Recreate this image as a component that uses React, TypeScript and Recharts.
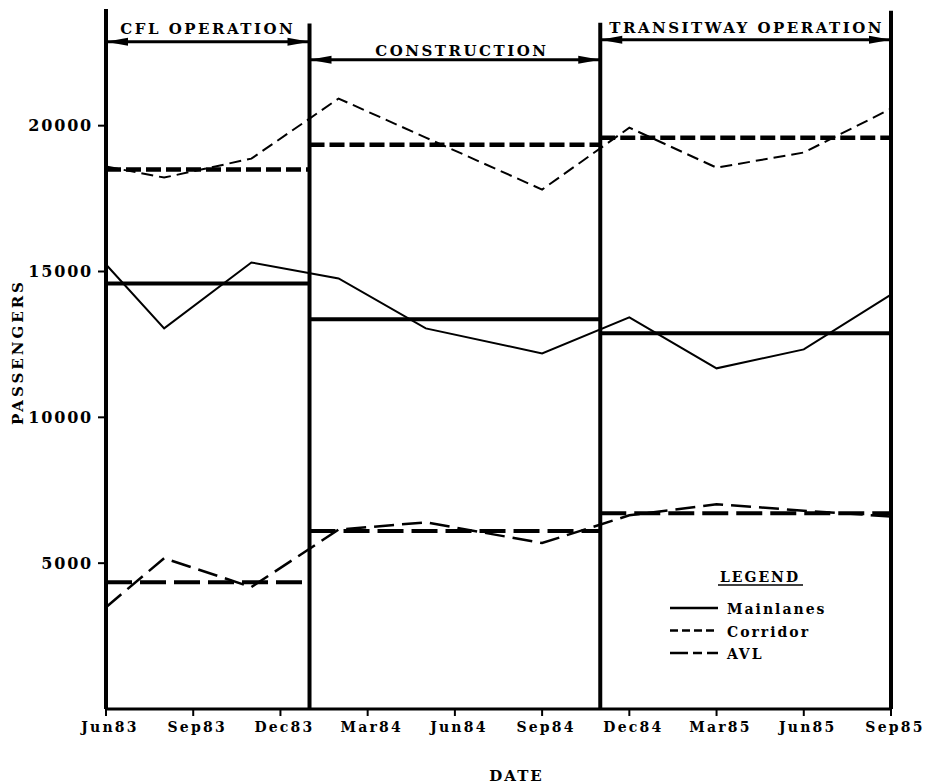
import React from 'react';
import { ComposedChart, Line, XAxis, YAxis, ReferenceLine, Legend } from 'recharts';

const months = [0, 2, 5, 8, 11, 15, 18, 21, 24, 27];
const mainlanes = [15240, 13050, 15310, 14760, 13050, 12190, 13430, 11680, 12330, 14210];
const corridor = [18600, 18220, 18870, 20930, 19590, 17810, 19930, 18560, 19080, 20580];
const avl = [3490, 5170, 4180, 6150, 6400, 5690, 6640, 7020, 6800, 6600];

const tickMonths = [0, 3, 6, 9, 12, 15, 18, 21, 24, 27];
const tickLabels = ['Jun83', 'Sep83', 'Dec83', 'Mar84', 'Jun84', 'Sep84', 'Dec84', 'Mar85', 'Jun85', 'Sep85'];
const yTicks = [5000, 10000, 15000, 20000];

const seriesOrder = ['Mainlanes', 'Corridor', 'AVL'];
const periodNames = ['CFL OPERATION', 'CONSTRUCTION', 'TRANSITWAY OPERATION'];
const periodStart = [0, 7, 17];
const periodEnd = [7, 17, 27];
const mainlanesAvg = [14590, 13360, 12880];
const corridorAvg = [18500, 19350, 19590];
const avlAvg = [4350, 6100, 6710];
const arrowLevels = [22880, 22260, 22950];
const labelGaps = [8, 4, 7];
const labelShift = [0, 7, 1];
const dividerMonths = [7, 17, 27];
const dividerTops = [23500, 23530, 23940];

const data = months.map((m, i) => ({ month: m, Mainlanes: mainlanes[i], Corridor: corridor[i], AVL: avl[i] }));

const FONT = "'DejaVu Serif', 'Liberation Serif', serif";

const XTick = (props: any) => {
  const { x, y, payload } = props;
  const idx = tickMonths.indexOf(payload.value);
  return (
    <text x={x + 4} y={y} dy="0.71em" textAnchor="middle" fill="#000" fontFamily={FONT} fontWeight={700} fontSize={14} style={{ letterSpacing: 2.2 }}>
      {tickLabels[idx]}
    </text>
  );
};

const YTick = (props: any) => {
  const { x, y, payload } = props;
  return (
    <text x={x - 3} y={y} dy="0.36em" textAnchor="end" fill="#000" fontFamily={FONT} fontWeight={700} fontSize={16} style={{ letterSpacing: 1.8 }}>
      {payload.value}
    </text>
  );
};

const makeArrow = (label: string, gap: number, shift: number) => (p: any) => {
  const { x1, y1, x2 } = p;
  const ah = 22;
  return (
    <g>
      <line x1={x1} y1={y1} x2={x2} y2={y1} stroke="#000" strokeWidth={3} />
      <polygon points={`${x1},${y1} ${x1 + ah},${y1 - 4} ${x1 + ah},${y1 + 4}`} fill="#000" />
      <polygon points={`${x2},${y1} ${x2 - ah},${y1 - 4} ${x2 - ah},${y1 + 4}`} fill="#000" />
      <text x={(x1 + x2) / 2 + shift} y={y1 - gap} textAnchor="middle" fill="#000" fontFamily={FONT} fontWeight={700} fontSize={15} style={{ letterSpacing: 2.5 }}>
        {label}
      </text>
    </g>
  );
};

const legendStyles: Record<string, { dash?: string; w: number }> = {
  Mainlanes: { w: 2.5 },
  Corridor: { dash: '8 4', w: 2.5 },
  AVL: { dash: '18 5 9 5', w: 2.5 },
};

const renderLegend = (props: any) => {
  const payload = [...(props.payload || [])].sort(
    (a: any, b: any) => seriesOrder.indexOf(a.value) - seriesOrder.indexOf(b.value)
  );
  return (
    <svg width={260} height={110} style={{ display: 'block' }}>
      <text x={100} y={24} textAnchor="middle" fill="#000" fontFamily={FONT} fontWeight={700} fontSize={14} style={{ letterSpacing: 2 }}>
        LEGEND
      </text>
      <line x1={58} x2={143} y1={27} y2={27} stroke="#000" strokeWidth={1.5} />
      {payload.map((e: any, i: number) => {
        const st = legendStyles[e.value] || { w: 2 };
        return (
          <g key={e.value}>
            <line x1={10} x2={58} y1={50 + i * 22.5} y2={50 + i * 22.5} stroke="#000" strokeWidth={st.w} strokeDasharray={st.dash} />
            <text x={67} y={56 + i * 22.5} fill="#000" fontFamily={FONT} fontWeight={700} fontSize={14} style={{ letterSpacing: 2 }}>
              {e.value}
            </text>
          </g>
        );
      })}
    </svg>
  );
};

export default function App() {
  return (
    <div style={{ position: 'absolute', left: 0, top: 0, background: '#fff' }}>
      <ComposedChart width={926} height={784} data={data} margin={{ top: 9, right: 35, bottom: 0, left: 0 }}>
        <XAxis
          type="number"
          dataKey="month"
          domain={[0, 27]}
          ticks={tickMonths}
          interval={0}
          height={75}
          tick={<XTick />}
          tickSize={7}
          tickMargin={6}
          axisLine={{ stroke: '#000', strokeWidth: 3 }}
          tickLine={{ stroke: '#000', strokeWidth: 2 }}
          label={(lp: any) => {
            const vb = lp.viewBox || {};
            return (
              <text x={vb.x + vb.width * 0.523} y={781} textAnchor="middle" fill="#000" fontFamily={FONT} fontWeight={700} fontSize={15} style={{ letterSpacing: 2 }}>
                DATE
              </text>
            );
          }}
        />
        <YAxis
          type="number"
          domain={[0, 24000]}
          ticks={yTicks}
          interval={0}
          width={106}
          tick={<YTick />}
          tickSize={8}
          tickMargin={2}
          axisLine={{ stroke: '#000', strokeWidth: 4 }}
          tickLine={{ stroke: '#000', strokeWidth: 2 }}
          label={(lp: any) => {
            const vb = lp.viewBox || {};
            const cx = 18;
            const cy = vb.y + vb.height * 0.49;
            return (
              <text x={cx} y={cy} transform={`rotate(-90 ${cx} ${cy})`} dy="0.36em" textAnchor="middle" fill="#000" fontFamily={FONT} fontWeight={700} fontSize={15} style={{ letterSpacing: 3 }}>
                PASSENGERS
              </text>
            );
          }}
        />
        {dividerMonths.map((m, i) => (
          <ReferenceLine key={`div${i}`} segment={[{ x: m, y: 0 }, { x: m, y: dividerTops[i] }]} stroke="#000" strokeWidth={4} />
        ))}
        {periodNames.map((name, i) => (
          <ReferenceLine
            key={`arr${i}`}
            segment={[{ x: periodStart[i], y: arrowLevels[i] }, { x: periodEnd[i], y: arrowLevels[i] }]}
            stroke="#000"
            shape={makeArrow(name, labelGaps[i], labelShift[i])}
          />
        ))}
        {mainlanesAvg.map((v, i) => (
          <ReferenceLine key={`ma${i}`} segment={[{ x: periodStart[i], y: v }, { x: periodEnd[i], y: v }]} stroke="#000" strokeWidth={4} />
        ))}
        {corridorAvg.map((v, i) => (
          <ReferenceLine key={`ca${i}`} segment={[{ x: periodStart[i], y: v }, { x: periodEnd[i], y: v }]} stroke="#000" strokeWidth={4.5} strokeDasharray="15 5" />
        ))}
        {avlAvg.map((v, i) => (
          <ReferenceLine key={`aa${i}`} segment={[{ x: periodStart[i], y: v }, { x: periodEnd[i], y: v }]} stroke="#000" strokeWidth={4} strokeDasharray="26 8" />
        ))}
        <Line type="linear" dataKey="Mainlanes" stroke="#000" strokeWidth={2} dot={false} isAnimationActive={false} />
        <Line type="linear" dataKey="Corridor" stroke="#000" strokeWidth={2} strokeDasharray="12 6" dot={false} isAnimationActive={false} />
        <Line type="linear" dataKey="AVL" stroke="#000" strokeWidth={2.5} strokeDasharray="20 8" dot={false} isAnimationActive={false} />
        <Legend
          layout="horizontal"
          verticalAlign="middle"
          align="center"
          content={renderLegend}
          wrapperStyle={{ left: 660, top: 558, width: 260, height: 110 }}
        />
      </ComposedChart>
    </div>
  );
}
